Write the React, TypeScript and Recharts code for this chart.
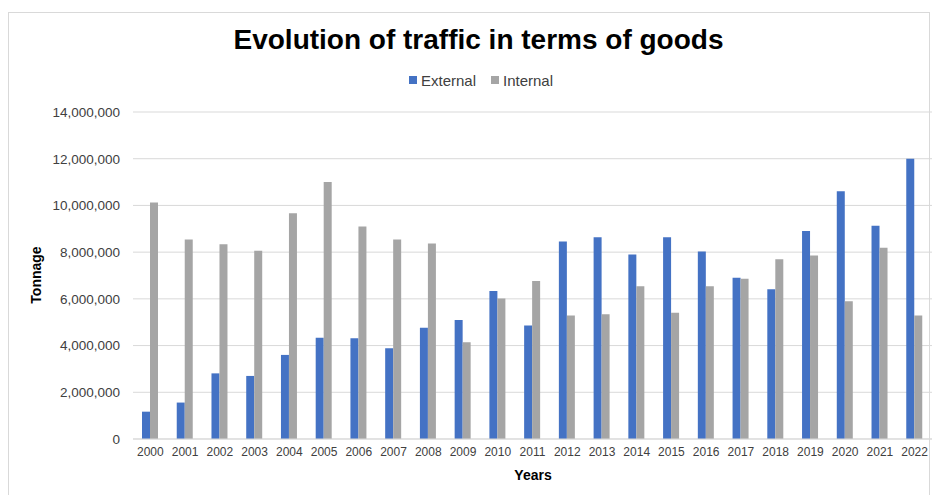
import React from "react";
import { BarChart, Bar, XAxis, YAxis, CartesianGrid } from "recharts";

const years = [
  "2000", "2001", "2002", "2003", "2004", "2005", "2006", "2007", "2008", "2009", "2010", "2011",
  "2012", "2013", "2014", "2015", "2016", "2017", "2018", "2019", "2020", "2021", "2022",
];

const external = [
  1170000, 1560000, 2810000, 2700000, 3600000, 4340000, 4310000, 3890000, 4760000, 5090000, 6340000, 4860000,
  8460000, 8640000, 7900000, 8640000, 8030000, 6900000, 6410000, 8900000, 10610000, 9130000, 12000000,
];

const internal = [
  10130000, 8540000, 8340000, 8060000, 9670000, 11000000, 9100000, 8540000, 8370000, 4140000, 6010000, 6760000,
  5290000, 5340000, 6540000, 5410000, 6540000, 6860000, 7700000, 7860000, 5900000, 8190000, 5290000,
];

const yTicks = [0, 2000000, 4000000, 6000000, 8000000, 10000000, 12000000, 14000000];

const data = years.map((year, i) => ({ year, External: external[i], Internal: internal[i] }));

const FONT = "'Liberation Sans', Arial, sans-serif";
const BLUE = "#4472C4";
const GRAY = "#A5A5A5";

const App: React.FC = () => {
  return (
    <div style={{ position: "absolute", left: 0, top: 0, width: 935, height: 495, background: "#fff", fontFamily: FONT, overflow: "hidden" }}>
      <div style={{ position: "absolute", left: 8, top: 12, width: 922, height: 500, border: "1px solid #D9D9D9", boxSizing: "border-box" }} />
      <div
        style={{
          position: "absolute",
          left: 0,
          top: 24,
          width: 957,
          textAlign: "center",
          fontSize: 28,
          fontWeight: "bold",
          color: "#000",
          lineHeight: "32px",
        }}
      >
        Evolution of traffic in terms of goods
      </div>
      <div
        style={{
          position: "absolute",
          left: 0,
          top: 70,
          width: 962,
          height: 20,
          display: "flex",
          justifyContent: "center",
          alignItems: "center",
          fontSize: 15,
          color: "#404040",
        }}
      >
        <span style={{ display: "inline-block", width: 8, height: 8, background: BLUE, marginRight: 4 }} />
        <span style={{ marginRight: 15 }}>External</span>
        <span style={{ display: "inline-block", width: 8, height: 8, background: GRAY, marginRight: 4 }} />
        <span>Internal</span>
      </div>
      <div style={{ position: "absolute", left: 0, top: 0 }}>
        <BarChart
          width={935}
          height={495}
          data={data}
          margin={{ top: 112, right: 3, bottom: 26, left: 8 }}
          barGap={0}
          barSize={8}
        >
          <CartesianGrid stroke="#D9D9D9" vertical={false} />
          <XAxis
            dataKey="year"
            interval={0}
            height={30}
            tickLine={false}
            axisLine={{ stroke: "#D9D9D9" }}
            tick={{ fill: "#404040", fontSize: 12, fontFamily: FONT }}
            label={{
              content: () => (
                <text x={533} y={480} textAnchor="middle" fontSize={14} fontWeight="bold" fill="#000" fontFamily={FONT}>
                  Years
                </text>
              ),
            }}
          />
          <YAxis
            width={125}
            domain={[0, 14000000]}
            ticks={yTicks}
            tickLine={false}
            axisLine={false}
            tickMargin={7}
            tick={{ fill: "#404040", fontSize: 13.5, fontFamily: FONT }}
            tickFormatter={(v: number) => v.toLocaleString("en-US")}
            label={{
              content: () => (
                <text
                  x={37}
                  y={275}
                  transform="rotate(-90 37 275)"
                  textAnchor="middle"
                  dominantBaseline="middle"
                  fontSize={14}
                  fontWeight="bold"
                  fill="#000"
                  fontFamily={FONT}
                >
                  Tonnage
                </text>
              ),
            }}
          />
          <Bar dataKey="External" fill={BLUE} isAnimationActive={false} />
          <Bar dataKey="Internal" fill={GRAY} isAnimationActive={false} />
        </BarChart>
      </div>
    </div>
  );
};

export default App;
